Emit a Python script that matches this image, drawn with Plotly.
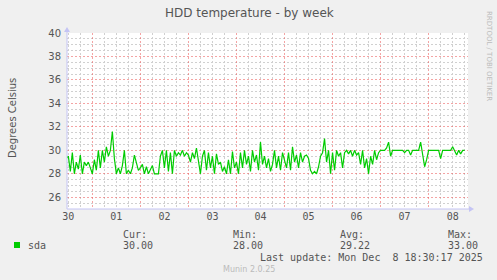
import plotly.graph_objects as go
import pandas as pd
import numpy as np

# ---- data (hourly samples) ----
start_time = "2025-11-30 11:00"
nov30 = [29.3, 29.5, 28.2, 29.8, 28.0, 29.0, 28.4, 29.6, 28.0, 29.0, 28.7, 29.0, 28.5]
dec01 = [28.0, 29.2, 28.3, 30.0, 28.5, 30.0, 29.0, 30.3, 29.5, 30.0, 31.6, 29.3,
         28.0, 28.5, 28.0, 28.7, 30.0, 28.0, 28.3, 28.0, 28.5, 29.6, 28.8, 28.3]
dec02 = [28.5, 28.8, 28.0, 28.6, 28.0, 28.3, 28.7, 28.0, 28.0, 28.0, 29.5, 30.0,
         28.5, 30.0, 28.2, 29.8, 28.0, 30.0, 29.5, 29.8, 29.6, 30.0, 29.5, 29.8]
dec03 = [29.6, 29.0, 29.8, 29.3, 30.2, 29.0, 28.0, 29.5, 30.0, 28.3, 29.8, 28.5,
         29.5, 28.0, 29.7, 28.8, 29.0, 28.2, 28.6, 28.0, 29.2, 28.0, 29.9, 28.5]
dec04 = [29.0, 28.0, 29.8, 28.5, 30.0, 28.8, 29.5, 28.2, 30.0, 29.0, 29.6, 28.3,
         30.7, 28.8, 29.5, 28.5, 29.3, 28.2, 28.8, 30.0, 28.5, 29.5, 28.3, 29.8]
dec05 = [29.2, 28.5, 29.8, 28.3, 30.3, 29.0, 29.6, 28.5, 29.8, 29.0, 29.5, 29.6,
         29.3, 28.3, 28.0, 28.2, 28.0, 28.6, 29.5, 29.8, 31.0, 29.0, 30.0, 28.0]
dec06 = [29.8, 28.3, 30.0, 29.5, 29.8, 28.5, 29.8, 30.0, 29.7, 30.0, 29.5, 30.0,
         29.6, 29.8, 28.8, 30.0, 28.5, 29.3, 28.0, 29.5, 28.8, 30.0, 29.2, 29.8]
dec07 = [30.0, 30.0, 30.0, 30.2, 30.7, 29.5, 30.0, 30.0, 30.0, 30.0, 30.0, 30.0,
         29.8, 30.0, 30.0, 29.6, 30.0, 30.0, 30.0, 30.0, 30.7, 29.6, 28.6, 29.2]
dec08 = [30.0, 30.0, 30.0, 30.0, 30.0, 30.0, 29.3, 30.0, 30.0, 30.0, 30.0, 30.0,
         30.3, 30.0, 29.6, 30.0, 29.7, 30.0, 30.0]

temps = nov30 + dec01 + dec02 + dec03 + dec04 + dec05 + dec06 + dec07 + dec08
times = pd.date_range(start_time, periods=len(temps), freq="h")

series_name = "sda"
stat_labels = ["Cur:", "Min:", "Avg:", "Max:"]
stat_values = ["30.00", "28.00", "29.22", "33.00"]
y_ticks = [26, 28, 30, 32, 34, 36, 38, 40]
x_range = ["2025-11-30 11:20", "2025-12-08 19:40"]

# minor grid positions (6-hourly / every 0.5 degree), skipping the major ones
x_minor = [t for t in pd.date_range("2025-11-30 00:00", "2025-12-09 00:00", freq="6h")
           if t.hour != 0]
y_minor = [v for v in np.arange(25, 40.01, 0.5) if v % 2 != 0]

# ---- layout helpers (pixel -> paper) ----
W, H = 497, 280
L, R, T, B = 67, 468, 33, 209
def px(x):
    return (x - L) / (R - L)
def py(y):
    return (B - y) / (B - T)

MONO = "DejaVu Sans Mono"
SANS = "DejaVu Sans"
TXT = "#555555"
AXC = "#C4C4F4"
MAJ = "rgba(235,90,90,0.55)"
MIN = "#D0D0D0"

fig = go.Figure()
fig.add_trace(go.Scatter(x=times, y=temps, mode="lines",
                         line=dict(color="#00CC00", width=1.2),
                         showlegend=False, hoverinfo="skip"))

fig.update_layout(
    width=W, height=H,
    margin=dict(l=L, r=W - R, t=T, b=H - B),
    paper_bgcolor="#F0F0F0", plot_bgcolor="#FFFFFF",
    showlegend=False,
)
fig.update_xaxes(
    type="date", range=x_range,
    dtick=86400000, tick0="2025-11-30", tickformat="%d",
    ticklabelmode="period",
    showgrid=True, gridcolor=MAJ, griddash="2px,2px", gridwidth=1,
    minor=dict(tickmode="array", tickvals=x_minor, showgrid=True, gridcolor=MIN,
               griddash="2px,2px", gridwidth=1),
    showline=False, zeroline=False, ticks="",
    tickfont=dict(family=MONO, size=10, color=TXT),
)
fig.update_yaxes(
    range=[25, 40], tickvals=y_ticks,
    showgrid=True, gridcolor=MAJ, griddash="2px,2px", gridwidth=1,
    minor=dict(tickmode="array", tickvals=y_minor, showgrid=True, gridcolor=MIN,
               griddash="2px,2px", gridwidth=1),
    showline=False, zeroline=False, ticks="",
    tickfont=dict(family=SANS, size=10, color=TXT),
    ticklabelstandoff=5,
)

# axes lines with arrows
shapes = [
    dict(type="line", xref="paper", yref="paper", x0=px(67), x1=px(67),
         y0=py(209), y1=py(30), line=dict(color=AXC, width=1)),
    dict(type="line", xref="paper", yref="paper", x0=px(67), x1=px(471),
         y0=py(209), y1=py(209), line=dict(color=AXC, width=1)),
    dict(type="path", xref="paper", yref="paper",
         path=f"M {px(64)} {py(32)} L {px(70)} {py(32)} L {px(67)} {py(27)} Z",
         fillcolor=AXC, line=dict(width=0)),
    dict(type="path", xref="paper", yref="paper",
         path=f"M {px(469)} {py(206)} L {px(469)} {py(212)} L {px(474)} {py(209)} Z",
         fillcolor=AXC, line=dict(width=0)),
    # legend swatch
    dict(type="rect", xref="paper", yref="paper",
         x0=px(14), x1=px(20), y0=py(248), y1=py(242),
         fillcolor="#00CC00", line=dict(width=0)),
]
fig.update_layout(shapes=shapes)

ann = []
def add(text, x, y, size=10, family=MONO, color=TXT, xanchor="left", angle=0):
    ann.append(dict(text=text, x=px(x), y=py(y), xref="paper", yref="paper",
                    showarrow=False, xanchor=xanchor, yanchor="middle",
                    font=dict(family=family, size=size, color=color),
                    textangle=angle, borderpad=0))

add("HDD temperature - by week", 249, 13, size=12, family=SANS, xanchor="center")
add("Degrees Celsius", 12, 118, size=10, family=SANS, xanchor="center", angle=-90)
add("RRDTOOL / TOBI OETIKER", 489, 56, size=7, family=SANS, color="#BBBBBB",
    xanchor="center", angle=90)
add(series_name, 27, 245)
for lbl, val, xx in zip(stat_labels, stat_values, [122, 232, 339, 447]):
    add(lbl, xx, 234)
    add(val, xx, 245)
add("Last update: Mon Dec\u00a0\u00a08 18:30:17 2025", 484, 257, xanchor="right")
add("Munin 2.0.25", 249, 269, size=8, family=SANS, color="#BBBBBB", xanchor="center")
fig.update_layout(annotations=ann)

fig.write_html("out.html")
